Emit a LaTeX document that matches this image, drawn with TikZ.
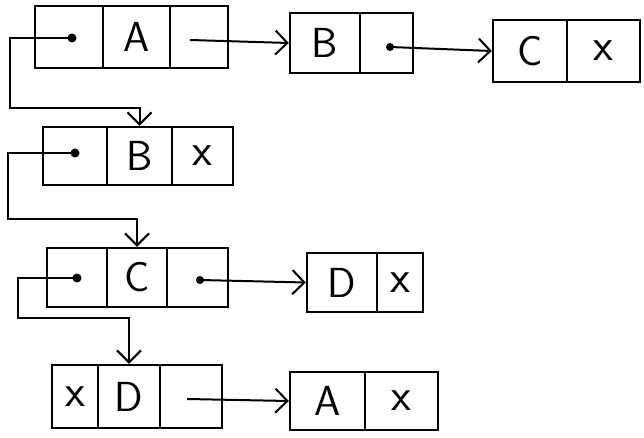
\documentclass[tikz,border=0pt]{standalone}
\usetikzlibrary{arrows.meta}
\begin{document}
\begin{tikzpicture}[x=1pt,y=-1pt,
  cell/.style={draw, line width=2.4pt, inner sep=0pt, font=\fontsize{42}{42}\sffamily},
  nilx/.style={font=\fontsize{46}{46}\sffamily},
  dotn/.style={circle, fill, inner sep=0pt, minimum size=9pt},
  ptr/.style={line width=2pt, -{Straight Barb[length=12pt,width=24pt,line width=2pt]}}]
\useasboundingbox (0,0) rectangle (644,438);
% Row 1: list A -> B -> C
\node[cell, minimum width=68pt, minimum height=62pt] (a1p) at (69,37) {};
\node[cell, minimum width=67pt, minimum height=62pt] (a1d) at (136.5,37) {A};
\node[cell, minimum width=58pt, minimum height=62pt] (a1n) at (199,37) {};
\node[cell, minimum width=70pt, minimum height=60pt] (b1d) at (325,43) {B};
\node[cell, minimum width=53pt, minimum height=60pt] (b1n) at (386.5,43) {};
\node[cell, minimum width=74pt, minimum height=62pt] (c1d) at (530,51) {C};
\node[cell, nilx, minimum width=73pt, minimum height=62pt] (c1n) at (603.5,51) {x};
% Row 2
\node[cell, minimum width=64pt, minimum height=58pt] (b2p) at (75,156) {};
\node[cell, minimum width=65pt, minimum height=58pt] (b2d) at (139.5,156) {B};
\node[cell, nilx, minimum width=61pt, minimum height=58pt] (b2n) at (202.5,156) {x};
% Row 3
\node[cell, minimum width=60pt, minimum height=59pt] (c3p) at (77,277.5) {};
\node[cell, minimum width=60pt, minimum height=59pt] (c3d) at (137,277.5) {C};
\node[cell, minimum width=61pt, minimum height=59pt] (c3n) at (197.5,277.5) {};
\node[cell, minimum width=70pt, minimum height=59pt] (d3d) at (342,282.5) {D};
\node[cell, nilx, minimum width=46pt, minimum height=59pt] (d3n) at (400,282.5) {x};
% Row 4
\node[cell, nilx, minimum width=46pt, minimum height=63pt] (d4p) at (75,396.5) {x};
\node[cell, minimum width=62pt, minimum height=63pt] (d4d) at (129,396.5) {D};
\node[cell, minimum width=62pt, minimum height=63pt] (d4n) at (191,396.5) {};
\node[cell, minimum width=75pt, minimum height=58pt] (a4d) at (327.5,401) {A};
\node[cell, nilx, minimum width=73pt, minimum height=58pt] (a4n) at (401.5,401) {x};
% pointer dots
\node[dotn] (d1) at (72,38) {};
\node[dotn, minimum size=8pt] (db) at (390,47) {};
\node[dotn] (d2) at (75,153) {};
\node[dotn] (d3) at (77,278) {};
\node[dotn, minimum size=8pt] (dc) at (200,280) {};
\coordinate (s1) at (190,40);
\coordinate (s4) at (187,399);
% links
\draw[ptr] (s1) -- (b1d.west);
\draw[ptr] (db.center) -- (c1d.west);
\draw[ptr] (dc.center) -- (d3d.west);
\draw[ptr] (s4) -- (a4d.west);
\draw[ptr] (d1.center) -- ++(-62,0) -- ++(0,70) -| (b2d.north);
\draw[ptr] (d2.center) -- ++(-67,0) -- ++(0,66) -| (c3d.north);
\draw[ptr] (d3.center) -- ++(-59,0) -- ++(0,40) -| (d4d.north);
\end{tikzpicture}
\end{document}
